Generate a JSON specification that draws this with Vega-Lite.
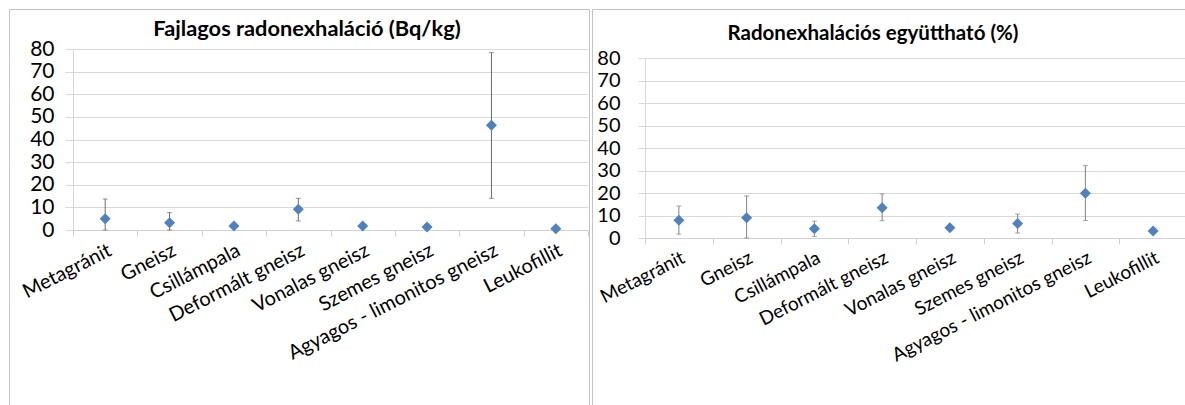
{
  "$schema": "https://vega.github.io/schema/vega-lite/v6.json",
  "padding": {"left": 8, "top": 8, "right": 0, "bottom": 0},
  "spacing": 1,
  "background": "white",
  "config": {
    "font": "Lato",
    "view": {"stroke": "#c4c4c4", "strokeWidth": 1},
    "axis": {"labelFont": "Lato", "labelColor": "#000000", "title": null, "labelLimit": 0, "labelOverlap": false}
  },
  "datasets": {
    "fajlagos": [
      {"k": "Metagránit", "value": 5.0, "low": 0.0, "high": 13.7},
      {"k": "Gneisz", "value": 3.2, "low": 0.0, "high": 7.7},
      {"k": "Csillámpala", "value": 1.8, "low": 1.8, "high": 1.8},
      {"k": "Deformált gneisz", "value": 9.2, "low": 4.0, "high": 14.0},
      {"k": "Vonalas gneisz", "value": 1.8, "low": 1.8, "high": 1.8},
      {"k": "Szemes gneisz", "value": 1.3, "low": 1.3, "high": 1.3},
      {"k": "Agyagos - limonitos gneisz", "value": 46.3, "low": 14.0, "high": 78.4},
      {"k": "Leukofillit", "value": 0.5, "low": 0.5, "high": 0.5}
    ],
    "egyutthato": [
      {"k": "Metagránit", "value": 7.9, "low": 1.7, "high": 14.2},
      {"k": "Gneisz", "value": 9.0, "low": 0.0, "high": 18.7},
      {"k": "Csillámpala", "value": 4.1, "low": 0.7, "high": 7.5},
      {"k": "Deformált gneisz", "value": 13.5, "low": 7.7, "high": 19.6},
      {"k": "Vonalas gneisz", "value": 4.6, "low": 4.6, "high": 4.6},
      {"k": "Szemes gneisz", "value": 6.4, "low": 2.2, "high": 10.6},
      {"k": "Agyagos - limonitos gneisz", "value": 19.9, "low": 7.8, "high": 32.2},
      {"k": "Leukofillit", "value": 3.1, "low": 3.1, "high": 3.1}
    ]
  },
  "hconcat": [
    {
      "width": 580,
      "height": 400,
      "data": {"name": "fajlagos"},
      "title": {"text": "Fajlagos radonexhaláció (Bq/kg)", "fontSize": 21.8, "fontWeight": "bold", "color": "#000000", "anchor": "middle", "frame": "group", "baseline": "alphabetic", "offset": -49, "dx": 8},
      "encoding": {
        "x": {
          "field": "k", "type": "nominal", "sort": null,
          "scale": {"type": "band", "range": [64, 579], "paddingInner": 0, "paddingOuter": 0},
          "axis": {"orient": "bottom", "offset": -179, "tickBand": "extent", "grid": false, "ticks": true, "tickSize": 6, "tickColor": "#d0d0d0", "domainColor": "#d0d0d0", "labelAngle": -27, "labelAlign": "right", "labelBaseline": "top", "labelFontSize": 20, "labelPadding": 4, "labelLimit": 0, "title": null}
        }
      },
      "layer": [
        {
          "mark": {"type": "rule", "color": "#6a6a6a", "strokeWidth": 1},
          "encoding": {
            "y": {"field": "low", "type": "quantitative", "scale": {"domain": [0, 80], "range": [221, 40], "nice": false, "zero": false},
              "axis": {"orient": "left", "offset": -64, "values": [0, 10, 20, 30, 40, 50, 60, 70, 80], "grid": true, "gridColor": "#d9d9d9", "tickColor": "#d9d9d9", "tickSize": 8, "domainColor": "#d9d9d9", "labelFontSize": 21, "labelPadding": 11, "title": null}},
            "y2": {"field": "high"}
          }
        },
        {
          "mark": {"type": "tick", "color": "#6a6a6a", "size": 5, "thickness": 1, "orient": "horizontal"},
          "encoding": {"y": {"field": "high", "type": "quantitative"}}
        },
        {
          "mark": {"type": "tick", "color": "#6a6a6a", "size": 5, "thickness": 1, "orient": "horizontal"},
          "encoding": {"y": {"field": "low", "type": "quantitative"}}
        },
        {
          "mark": {"type": "point", "shape": "diamond", "filled": true, "size": 121, "color": "#4f81bd", "opacity": 1},
          "encoding": {"y": {"field": "value", "type": "quantitative"}}
        }
      ]
    },
    {
      "width": 600,
      "height": 400,
      "data": {"name": "egyutthato"},
      "title": {"text": "Radonexhalációs együttható (%)", "fontSize": 20.5, "fontWeight": "bold", "color": "#000000", "anchor": "middle", "frame": "group", "baseline": "alphabetic", "offset": -51, "dx": -19},
      "encoding": {
        "x": {
          "field": "k", "type": "nominal", "sort": null,
          "scale": {"type": "band", "range": [53, 595], "paddingInner": 0, "paddingOuter": 0},
          "axis": {"orient": "bottom", "offset": -171, "tickBand": "extent", "grid": false, "ticks": true, "tickSize": 6, "tickColor": "#d0d0d0", "domainColor": "#d0d0d0", "labelAngle": -27, "labelAlign": "right", "labelBaseline": "top", "labelFontSize": 19, "labelPadding": 4, "labelLimit": 0, "title": null}
        }
      },
      "layer": [
        {
          "mark": {"type": "rule", "color": "#808080", "strokeWidth": 1},
          "encoding": {
            "y": {"field": "low", "type": "quantitative", "scale": {"domain": [0, 80], "range": [229, 49], "nice": false, "zero": false},
              "axis": {"orient": "left", "offset": -53, "values": [0, 10, 20, 30, 40, 50, 60, 70, 80], "grid": true, "gridColor": "#d9d9d9", "tickColor": "#d9d9d9", "tickSize": 7, "domainColor": "#d9d9d9", "labelFontSize": 20, "labelPadding": 18, "title": null}},
            "y2": {"field": "high"}
          }
        },
        {
          "mark": {"type": "tick", "color": "#808080", "size": 5, "thickness": 1, "orient": "horizontal"},
          "encoding": {"y": {"field": "high", "type": "quantitative"}}
        },
        {
          "mark": {"type": "tick", "color": "#808080", "size": 5, "thickness": 1, "orient": "horizontal"},
          "encoding": {"y": {"field": "low", "type": "quantitative"}}
        },
        {
          "mark": {"type": "point", "shape": "diamond", "filled": true, "size": 121, "color": "#4f81bd", "opacity": 1},
          "encoding": {"y": {"field": "value", "type": "quantitative"}}
        }
      ]
    }
  ]
}
